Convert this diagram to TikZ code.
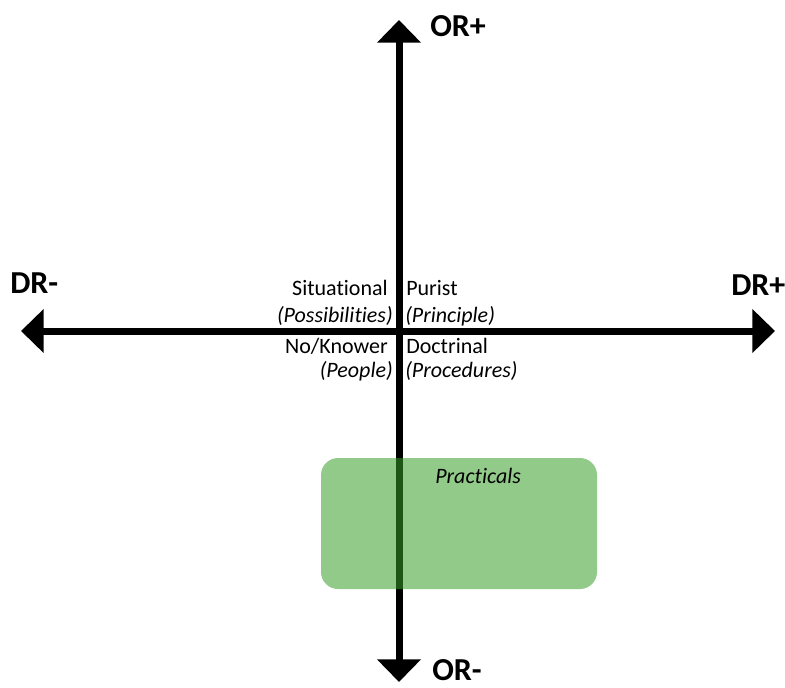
\documentclass[tikz,border=0pt]{standalone}
\usepackage{fontspec}
\setmainfont{Carlito}[Ligatures=NoCommon]
\usepackage{tikz}
\usetikzlibrary{arrows.meta}

\definecolor{PractGreen}{RGB}{56,160,40}

\begin{document}
\begin{tikzpicture}[x=0.75pt,y=0.75pt,
    axis/.style={line width=5.25pt,-{Triangle[width=32pt,length=17pt]}},
    pole/.style={inner sep=0pt,font=\fontsize{24}{28}\selectfont\bfseries},
    quad/.style={inner sep=0pt,font=\fontsize{16.5}{20}\selectfont}]
            \useasboundingbox (0,0) rectangle (785,687);
            %
            \coordinate (O) at (399, 356);
            \coordinate (top) at (399, 667);
            \coordinate (bottom) at (399, 5);
            \coordinate (left) at (21, 356);
            \coordinate (right) at (775, 356);
            %
            \draw[axis] (O) -- (top);
            \draw[axis] (O) -- (bottom);
            \draw[axis] (O) -- (left);
            \draw[axis] (O) -- (right);
            %
            \node[pole, anchor=base west] (orplus) at (430, 650) {OR+};
            \node[pole, anchor=base west] (orminus) at (432, 7) {OR-};
            \node[pole, anchor=base west] (drminus) at (10, 394) {DR-};
            \node[pole, anchor=base west] (drplus) at (731, 392) {DR+};
            %
            \node[quad, anchor=base east] (sit) at (388, 392) {Situational};
            \node[quad, anchor=base east] (poss) at (393, 365) {\itshape(Possibilities)};
            \node[quad, anchor=base west] (pur) at (406, 392) {Purist};
            \node[quad, anchor=base west] (prin) at (405, 365) {\itshape(Principle)};
            \node[quad, anchor=base east] (know) at (388, 334) {No/Knower};
            \node[quad, anchor=base east] (peop) at (393, 310) {\itshape(People)};
            \node[quad, anchor=base west] (doct) at (406, 334) {Doctrinal};
            \node[quad, anchor=base west] (proc) at (405, 310) {\itshape(Procedures)};
            %
            \fill[PractGreen, fill opacity=0.55, rounded corners=12.75pt]
                (321, 98) rectangle (597, 229);
            \node[quad, anchor=base west] (pract) at (435, 204) {\itshape Practicals};
        \end{tikzpicture}
\end{document}
